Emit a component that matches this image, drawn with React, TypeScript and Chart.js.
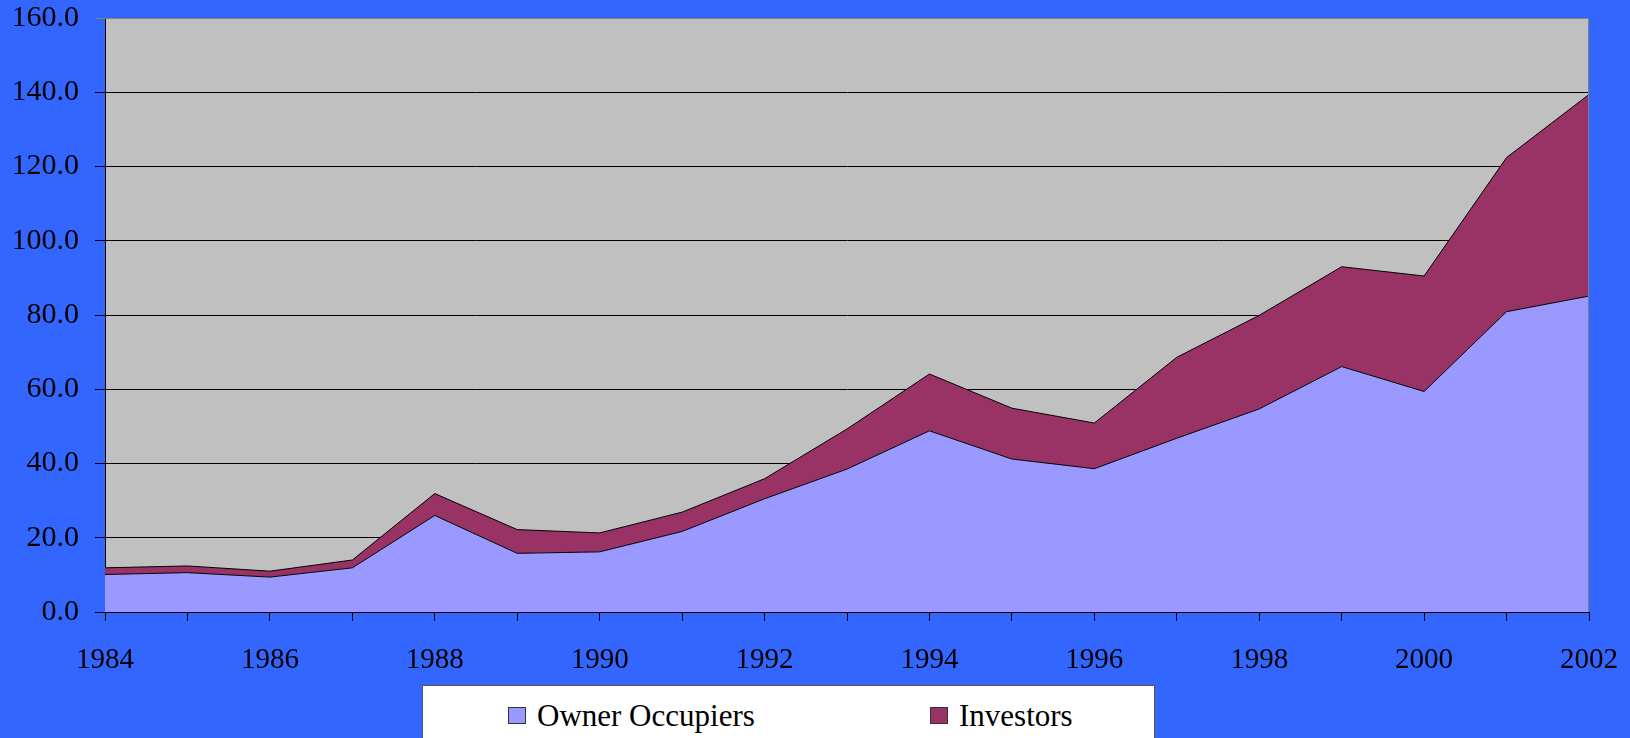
import React, { useEffect, useRef } from "react";
import { Chart, registerables } from "chart.js";

Chart.register(...registerables);

const years = ["1984","1985","1986","1987","1988","1989","1990","1991","1992","1993","1994","1995","1996","1997","1998","1999","2000","2001","2002"];
const ownerOccupiers = [10.1,10.6,9.4,11.9,26.0,15.8,16.2,21.7,30.5,38.5,48.8,41.2,38.6,46.8,54.7,66.1,59.4,80.9,85.1];
const investors = [1.8,1.8,1.6,2.1,5.9,6.4,5.1,5.2,5.4,10.8,15.3,13.7,12.3,21.8,25.2,26.9,31.1,41.5,54.3];
const seriesNames = ["Owner Occupiers", "Investors"];
const seriesColors = ["#9999FF", "#993366"];

const FONT = "'Liberation Serif', 'Times New Roman', serif";

const plotBg = {
  id: "plotBg",
  beforeDraw(chart: any) {
    const { ctx, chartArea: a } = chart;
    ctx.save();
    ctx.fillStyle = "#C0C0C0";
    ctx.fillRect(a.left, a.top, a.right - a.left, a.bottom - a.top);
    ctx.restore();
  },
  afterDatasetsDraw(chart: any) {
    const { ctx, chartArea: a } = chart;
    ctx.save();
    ctx.strokeStyle = "#808080";
    ctx.lineWidth = 1;
    ctx.beginPath();
    ctx.moveTo(a.left, a.top + 0.5);
    ctx.lineTo(a.right - 0.5, a.top + 0.5);
    ctx.lineTo(a.right - 0.5, a.bottom);
    ctx.stroke();
    ctx.restore();
  },
};

export default function App() {
  const ref = useRef<HTMLCanvasElement>(null);
  useEffect(() => {
    const chart = new Chart(ref.current!, {
      type: "line",
      data: {
        labels: years,
        datasets: [
          {
            label: seriesNames[0],
            data: ownerOccupiers,
            backgroundColor: seriesColors[0],
            borderColor: "#000000",
            borderWidth: 1,
            pointRadius: 0,
            fill: "origin",
            tension: 0,
          },
          {
            label: seriesNames[1],
            data: investors,
            backgroundColor: seriesColors[1],
            borderColor: "#000000",
            borderWidth: 1,
            pointRadius: 0,
            fill: "-1",
            tension: 0,
          },
        ],
      },
      options: {
        responsive: false,
        animation: false,
        layout: { padding: { left: 0, right: 41, top: 18, bottom: 60 } },
        plugins: { legend: { display: false }, tooltip: { enabled: false } },
        scales: {
          x: {
            offset: false,
            afterFit: (s: any) => {
              s.height = 66;
              s.paddingLeft = 0;
              s.paddingRight = 0;
            },
            grid: { display: true, drawOnChartArea: false, drawTicks: true, tickLength: 9, color: "#000000" },
            border: { display: true, color: "#000000", width: 1 },
            ticks: {
              autoSkip: false,
              maxRotation: 0,
              padding: 22,
              color: "#000000",
              font: { family: FONT, size: 29 },
              callback: (v: any, i: number) => (Number(years[i]) % 2 === 0 ? years[i] : ""),
            },
          },
          y: {
            stacked: true,
            min: 0,
            max: 160,
            afterFit: (s: any) => {
              s.width = 105;
              s.paddingTop = 0;
              s.paddingBottom = 0;
            },
            grid: {
              color: (c: any) => (c.tick && c.tick.value === 160 ? "#808080" : "#000000"),
              tickLength: 10,
              drawTicks: true,
            },
            border: { display: true, color: "#000000", width: 1 },
            ticks: {
              stepSize: 20,
              padding: 16,
              color: "#000000",
              font: { family: FONT, size: 30 },
              callback: (v: any) => Number(v).toFixed(1),
            },
          },
        },
      },
      plugins: [plotBg],
    });
    return () => chart.destroy();
  }, []);

  const legendText: React.CSSProperties = {
    position: "absolute",
    fontFamily: FONT,
    fontSize: 31,
    lineHeight: "31px",
    color: "#000",
    whiteSpace: "nowrap",
  };
  const swatch: React.CSSProperties = {
    position: "absolute",
    width: 18,
    height: 17,
    border: "1px solid #333",
    boxSizing: "border-box",
  };

  return (
    <div style={{ position: "fixed", left: 0, top: 0, width: 1630, height: 738, background: "#3366FF", overflow: "hidden" }}>
      <canvas ref={ref} width={1630} height={738} style={{ position: "absolute", left: 0, top: 0, width: 1630, height: 738 }} />
      <div style={{ position: "absolute", left: 422, top: 685, width: 733, height: 70, background: "#FFFFFF", border: "1px solid #555", boxSizing: "border-box" }}>
        <div style={{ ...swatch, left: 85, top: 21, background: seriesColors[0] }} />
        <div style={{ ...legendText, left: 114, top: 14 }}>{seriesNames[0]}</div>
        <div style={{ ...swatch, left: 507, top: 21, background: seriesColors[1] }} />
        <div style={{ ...legendText, left: 536, top: 14 }}>{seriesNames[1]}</div>
      </div>
    </div>
  );
}
